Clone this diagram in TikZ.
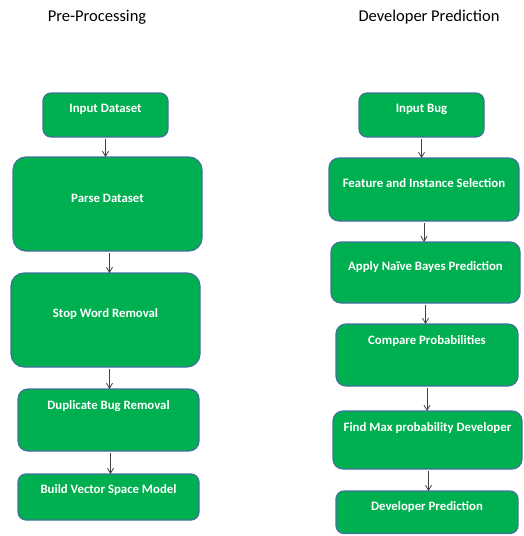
\documentclass[tikz,border=0pt]{standalone}
\usepackage{fontspec}
\setmainfont{Carlito}
\usepackage{tikz}
\usetikzlibrary{arrows.meta,positioning,calc}
\definecolor{boxgreen}{HTML}{00B050}
\definecolor{boxline}{HTML}{41719C}
\definecolor{linkgrey}{HTML}{404040}
\tikzstyle{stage} =[draw=boxline, fill=boxgreen, line width=1.2pt,
                    text=white, font=\bfseries\fontsize{12.8}{14}\selectfont,
                    inner sep=0pt, outer sep=0pt, anchor=north west,
                    rounded corners=8pt]
\tikzstyle{link}  =[draw=linkgrey, line width=0.8pt, shorten <=2pt,
                    -{Straight Barb[length=5pt,width=6pt]}]
\tikzstyle{title} =[inner sep=1pt, font=\fontsize{16.5}{18}\selectfont]

\begin{document}
\begin{tikzpicture}[x=1pt, y=-1pt]
    \useasboundingbox (0,0) rectangle (524,536);
    % column titles
    \node (pre) [title] at (97,17) {Pre-Processing};
    \node (dev) [title] at (429,17) {Developer Prediction};
    % pre-processing
    \node (indata) [stage, minimum width=125pt, text height=19.5pt, text depth=24.5pt]
        at (43,93) {Input Dataset};
    \node (parse) [stage, minimum width=189pt, text height=45.5pt, text depth=48.5pt,
        rounded corners=13pt] at (13,157) {Parse Dataset};
    \node (stopw) [stage, minimum width=189pt, text height=44.5pt, text depth=49.5pt,
        rounded corners=13pt] at (11,273) {Stop Word Removal};
    \node (dupl) [stage, minimum width=181pt, text height=20.5pt, text depth=41.5pt,
        rounded corners=10pt] at (18,389) {Duplicate Bug Removal};
    \node (vsm) [stage, minimum width=181pt, text height=19.5pt, text depth=26.5pt]
        at (18,474) {Build Vector Space Model};
    % developer prediction
    \node (inbug) [stage, minimum width=125pt, text height=19.5pt, text depth=24.5pt]
        at (359,93) {Input Bug};
    \node (feat) [stage, minimum width=190pt, text height=29.5pt, text depth=33.5pt,
        rounded corners=10pt] at (329,158) {Feature and Instance Selection};
    \node (bayes) [stage, minimum width=189pt, text height=28.5pt, text depth=32.5pt,
        rounded corners=10pt] at (331,242) {Apply Naïve Bayes Prediction};
    \node (comp) [stage, minimum width=182pt, text height=20.5pt, text depth=41.5pt,
        rounded corners=10pt] at (336,324) {Compare Probabilities};
    \node (maxp) [stage, minimum width=189pt, text height=20.5pt, text depth=37.5pt,
        rounded corners=10pt] at (333,411) {Find Max probability Developer};
    \node (pred) [stage, minimum width=182pt, text height=19.5pt, text depth=23pt]
        at (336,491) {Developer Prediction};
    % arrows
    \draw[link] (indata.south) -- (indata.south |- parse.north);
    \draw[link] ($(parse.south)+(2,0)$) -- ($(parse.south |- stopw.north)+(2,0)$);
    \draw[link] ($(stopw.south)+(4,0)$) -- ($(stopw.south |- dupl.north)+(4,0)$);
    \draw[link] ($(dupl.south)+(2,0)$) -- ($(dupl.south |- vsm.north)+(2,0)$);
    \draw[link] (inbug.south) -- (inbug.south |- feat.north);
    \draw[link] (feat.south) -- (feat.south |- bayes.north);
    \draw[link] (bayes.south) -- (bayes.south |- comp.north);
    \draw[link] (comp.south) -- (comp.south |- maxp.north);
    \draw[link] ($(maxp.south)+(1,0)$) -- ($(maxp.south |- pred.north)+(1,0)$);
\end{tikzpicture}
\end{document}
